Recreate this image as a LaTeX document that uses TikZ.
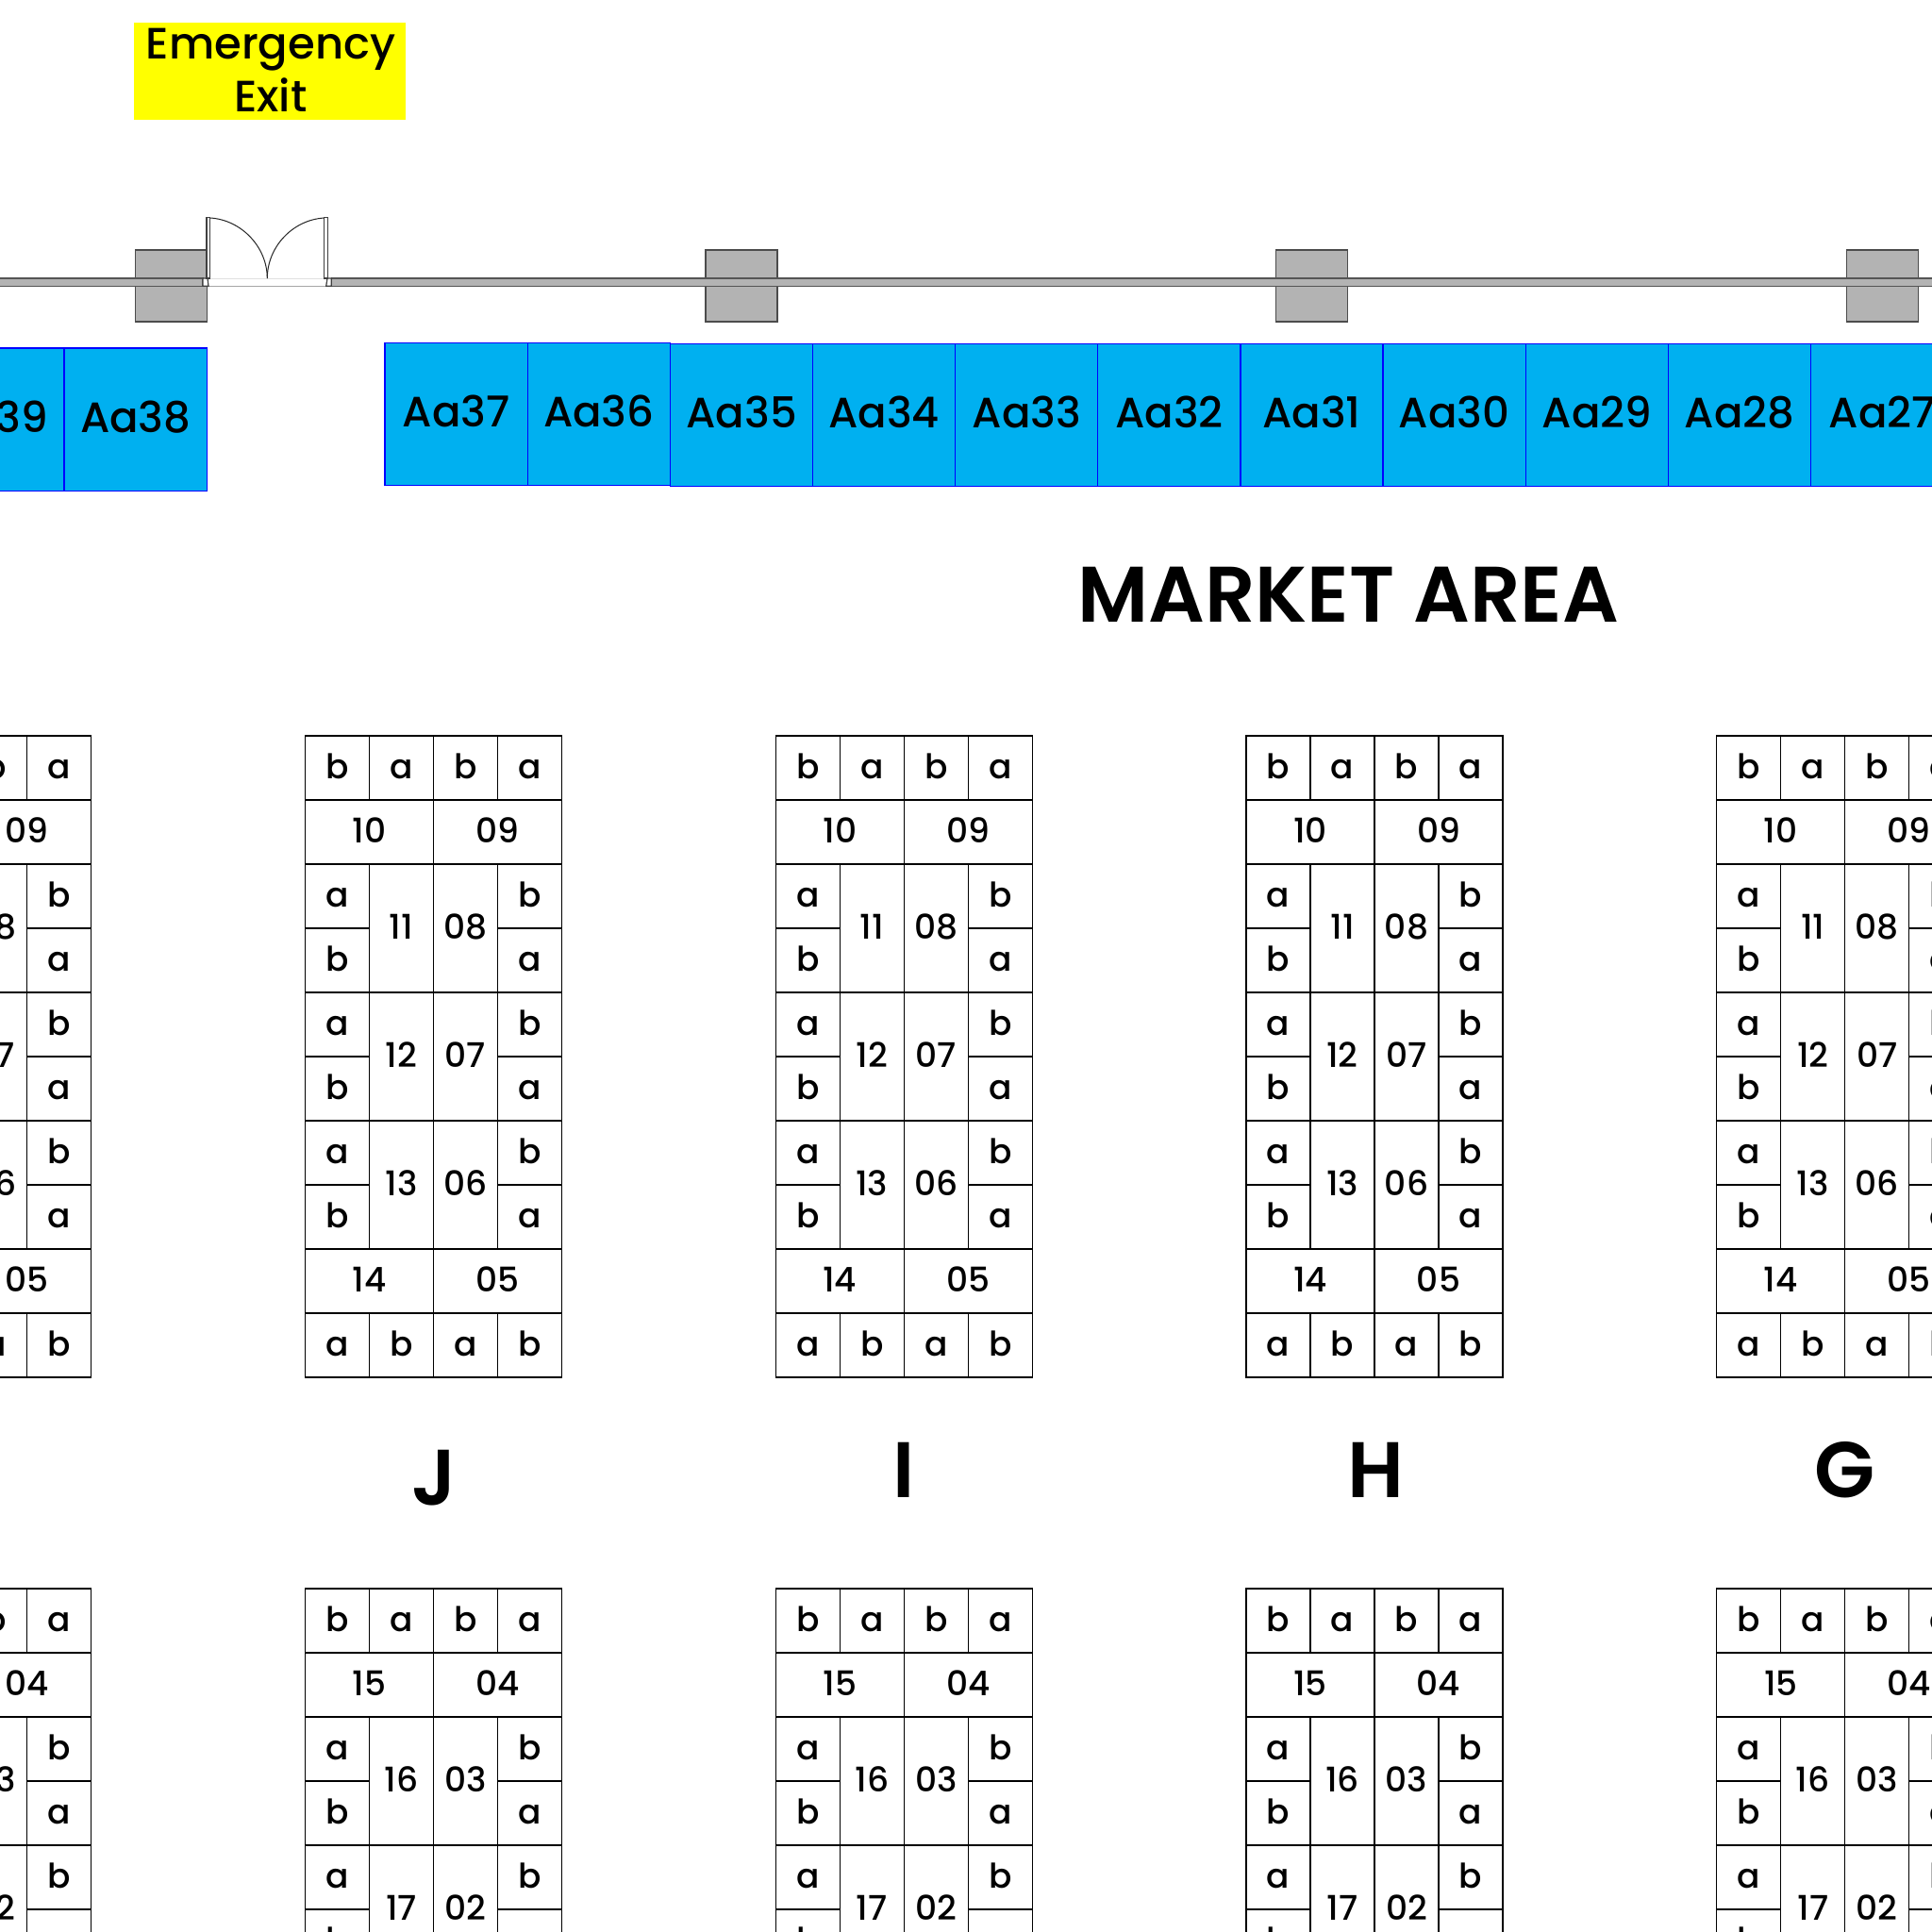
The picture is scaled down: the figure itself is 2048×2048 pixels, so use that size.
\documentclass[tikz,border=0pt]{standalone}
\usepackage{fontspec}
\setmainfont{Poppins Medium}[BoldFont={Poppins SemiBold}]
\definecolor{wallgray}{RGB}{179,179,179}
\definecolor{wallline}{RGB}{85,85,85}
\definecolor{stallblue}{RGB}{0,176,240}
\definecolor{signyellow}{RGB}{255,255,0}
\definecolor{kioskline}{RGB}{0,0,255}
\tikzset{
  stall/.style={draw=black,line width=1.3pt,inner sep=0pt,outer sep=0pt,text height=22.6pt,text depth=0pt,
    font=\fontsize{36}{40}\selectfont},
  kiosk/.style={draw=kioskline,fill=stallblue,line width=1.2pt,inner sep=0pt,outer sep=0pt,minimum width=151.2pt,
    minimum height=151.2pt,text height=28pt,text depth=0pt,font=\fontsize{45}{50}\selectfont},
  pillar/.style={draw=black!70,fill=wallgray,line width=1.2pt,inner sep=0pt,outer sep=0pt,minimum width=76pt,minimum height=76pt},
  wall/.style={draw=wallline,fill=wallgray,line width=1.5pt},
  leaf/.style={draw=black!75,fill=white,line width=1.2pt},
  swing/.style={draw=black!85,line width=1pt},
  letter/.style={inner sep=0pt,outer sep=0pt,font=\fontsize{83.5}{90}\selectfont\bfseries},
}
\newcommand{\stl}[6]{\node[stall,minimum width=#4*68pt,minimum height=#5*68pt] (#1) at ({#2+#4*34},{#3+#5*34}) {#6};}
% one row of four single cells
\newcommand{\rowfour}[7]{%
  \stl{#1c1}{#2}{#3}{1}{1}{#4}\stl{#1c2}{#2+68}{#3}{1}{1}{#5}%
  \stl{#1c3}{#2+136}{#3}{1}{1}{#6}\stl{#1c4}{#2+204}{#3}{1}{1}{#7}}
% row of two double cells
\newcommand{\rowtwo}[5]{%
  \stl{#1l}{#2}{#3}{2}{1}{#4}\stl{#1r}{#2+136}{#3}{2}{1}{#5}}
% a two-row band: a/b, number, number, b/a
\newcommand{\band}[5]{%
  \stl{#1a}{#2}{#3}{1}{1}{a}\stl{#1b}{#2}{#3+68}{1}{1}{b}%
  \stl{#1m}{#2+68}{#3}{1}{2}{#4}\stl{#1n}{#2+136}{#3}{1}{2}{#5}%
  \stl{#1p}{#2+204}{#3}{1}{1}{b}\stl{#1q}{#2+204}{#3+68}{1}{1}{a}}
\newcommand{\topblock}[2]{%
  \rowfour{#1A}{#2}{780}{b}{a}{b}{a}%
  \rowtwo{#1B}{#2}{848}{10}{09}%
  \band{#1C}{#2}{916}{11}{08}%
  \band{#1D}{#2}{1052}{12}{07}%
  \band{#1E}{#2}{1188}{13}{06}%
  \rowtwo{#1F}{#2}{1324}{14}{05}%
  \rowfour{#1G}{#2}{1392}{a}{b}{a}{b}}
\newcommand{\lowblock}[2]{%
  \rowfour{#1A}{#2}{1684}{b}{a}{b}{a}%
  \rowtwo{#1B}{#2}{1752}{15}{04}%
  \band{#1C}{#2}{1820}{16}{03}%
  \band{#1D}{#2}{1956}{17}{02}}
\begin{document}
\begin{tikzpicture}[x=1pt,y=-1pt]
\clip (0,0) rectangle (2048,2048);
\fill[white] (0,0) rectangle (2048,2048);
% emergency sign
\fill[signyellow] (142,23.5) rectangle (430,127);
\node[inner sep=0pt,outer sep=0pt,align=center,font=\fontsize{46.5}{56}\selectfont] (exit) at (287,74) {Emergency\\Exit};
% pillars
\node[pillar] (p1) at (181.3,303) {};
\node[pillar] (p2) at (786,303) {};
\node[pillar] (p3) at (1390.7,303) {};
\node[pillar] (p4) at (1995.4,303) {};
% wall
\draw[wall] (-5,295) rectangle (215,303.3);
\draw[wall] (351.3,295) rectangle (2055,303.3);
% door opening
\draw[draw=black!12,line width=1pt] (221,295) -- (345,295);
\draw[draw=black!35,line width=1pt] (221,303.3) -- (345,303.3);
\draw[leaf] (215,295) -- (220,295) -- (221,303.3) -- (215,303.3) -- cycle;
\draw[leaf] (351.3,295) -- (347,295) -- (345.7,303.3) -- (351.3,303.3) -- cycle;
\draw[leaf] (219,230.7) rectangle (222.7,295);
\draw[leaf] (343.7,230.7) rectangle (347.7,295);
\draw[swing] (222.7,231) .. controls (256,233) and (283.3,262) .. (283.3,295);
\draw[swing] (343.7,231) .. controls (310,233) and (283.3,262) .. (283.3,295);
% kiosks
\node[kiosk] (Aa39) at (-7.6,444.5) {Aa39};
\node[kiosk] (Aa38) at (143.7,444.5) {Aa38};
\node[kiosk] (Aa37) at (483.6,438.8) {Aa37};
\node[kiosk] (Aa36) at (634.8,438.8) {Aa36};
\foreach \n/\c in {35/786.1,34/937.2,33/1088.3,32/1239.4,31/1390.5,30/1541.6,29/1692.9,28/1844.1,27/1995.3}{
  \node[kiosk] (Aa\n) at (\c,439.7) {Aa\n};
}
% headings
\node[letter] (market) at (1429,630) {MARKET AREA};
\node[letter] (J) at (460,1567) {J};
\node[letter] (I) at (958.5,1558) {I};
\node[letter] (H) at (1458,1558) {H};
\node[letter] (G) at (1956,1558) {G};
% blocks
\topblock{K}{-175.5}
\topblock{T}{323.5}
\topblock{U}{822.3}
\topblock{V}{1321}
\topblock{W}{1819.8}
\lowblock{k}{-175.5}
\lowblock{t}{323.5}
\lowblock{u}{822.3}
\lowblock{v}{1321}
\lowblock{w}{1819.8}
\end{tikzpicture}
\end{document}
